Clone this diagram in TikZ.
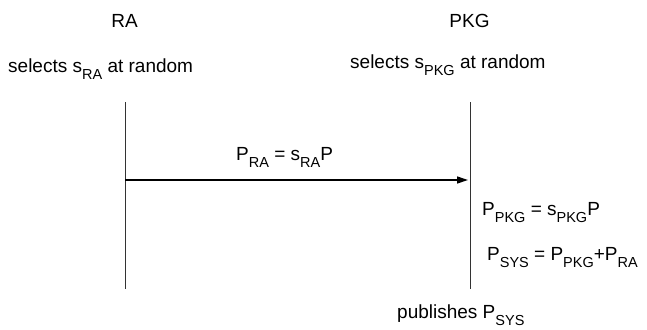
\documentclass[tikz,border=0pt]{standalone}
\usepackage{fontspec}
\setmainfont{Liberation Sans}
\usetikzlibrary{positioning,arrows.meta}
\newcommand{\lowsub}[1]{\raisebox{-7pt}{\fontsize{14.5}{14.5}\selectfont #1}}
\tikzset{
  lbl/.style={inner sep=0pt,anchor=base west,font=\fontsize{19}{22}\selectfont},
  head/.style={lbl,anchor=base},
  lifeline/.style={line width=1pt,black!80},
  msg/.style={line width=1.3pt,-{Triangle[length=11pt,width=7pt]}}
}
\begin{document}
\begin{tikzpicture}[x=1pt,y=1pt,yscale=-1,xscale=1]
  \useasboundingbox (0,0) rectangle (647,329);

  % Text Node
  \node [head] (ra) at (124.5,28) {RA};
  % Text Node
  \node [head] (pkg) at (469.5,28) {PKG};
  % Text Node
  \node [lbl] (raSel) at (8,72) {selects s\lowsub{RA} at random};
  % Text Node
  \node [lbl] (pkgSel) at (350,68) {selects s\lowsub{PKG} at random};

  %Lifelines
  \coordinate (raTop) at (125,102);
  \coordinate (raBot) at (125,289);
  \coordinate (pkgTop) at (470,102);
  \coordinate (pkgBot) at (470,289);
  \draw [lifeline] (raTop) -- (raBot);
  \draw [lifeline] (pkgTop) -- (pkgBot);

  %Message
  \coordinate (msgA) at (125,180);
  \coordinate (msgB) at (468,180);
  \draw [msg] (msgA) -- (msgB);
  % Text Node
  \node [lbl] (praLbl) at (236,160) {P\lowsub{RA} = s\lowsub{RA}P};

  % Text Node
  \node [lbl] (ppkg) at (482,215) {P\lowsub{PKG} = s\lowsub{PKG}P};
  % Text Node
  \node [lbl] (psys) at (487,260) {P\lowsub{SYS} = P\lowsub{PKG}+P\lowsub{RA}};
  % Text Node
  \node [lbl] (publ) at (397,318) {publishes P\lowsub{SYS}};
\end{tikzpicture}
\end{document}
